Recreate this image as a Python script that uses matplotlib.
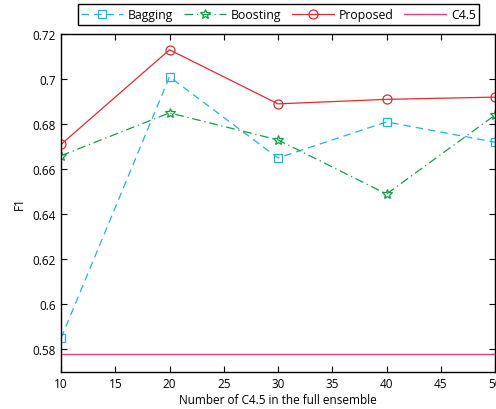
import matplotlib
matplotlib.use('Agg')
import matplotlib.pyplot as plt

# Ensemble sizes and F1 scores
sizes = [10, 20, 30, 40, 50]
bagging = [0.585, 0.701, 0.665, 0.681, 0.672]
boosting = [0.666, 0.685, 0.673, 0.649, 0.684]
proposed = [0.671, 0.713, 0.689, 0.691, 0.692]
c45 = [0.578, 0.578, 0.578, 0.578, 0.578]

plt.rcParams['font.family'] = ['Open Sans', 'DejaVu Sans']
plt.rcParams['font.size'] = 8.5

fig = plt.figure(figsize=(4.96, 4.10), dpi=100)
ax = fig.add_axes([0.123, 0.0902, 0.875, 0.8244])

ax.plot(sizes, bagging, color='#1ab4ea', linestyle=(0, (6, 4)), linewidth=0.9,
        marker='s', markersize=5.5, markerfacecolor='none', markeredgewidth=0.9,
        label='Bagging')
ax.plot(sizes, boosting, color='#10a040', linestyle=(0, (7, 3, 1, 3)), linewidth=0.9,
        marker='*', markersize=7.5, markerfacecolor='none', markeredgewidth=0.9,
        label='Boosting')
ax.plot(sizes, proposed, color='#e8292e', linestyle='-', linewidth=0.9,
        marker='o', markersize=6.5, markerfacecolor='none', markeredgewidth=0.9,
        label='Proposed')
ax.plot(sizes, c45, color='#e8378e', linestyle='-', linewidth=1.0, label='C4.5')

ax.set_xlim(10, 50)
ax.set_ylim(0.57, 0.72)
ax.set_xticks([10, 15, 20, 25, 30, 35, 40, 45, 50])
ax.set_yticks([0.58, 0.6, 0.62, 0.64, 0.66, 0.68, 0.7, 0.72])
ax.set_yticklabels(['0.58', '0.6', '0.62', '0.64', '0.66', '0.68', '0.7', '0.72'])
ax.tick_params(direction='in', top=True, right=True, length=4, width=0.8)
for s in ax.spines.values():
    s.set_linewidth(1.0)

ax.set_xlabel('Number of C4.5 in the full ensemble', labelpad=2)
ax.set_ylabel('F1', labelpad=5)

fig.legend(loc='center', bbox_to_anchor=(0.5615, 0.962), ncol=4,
           fontsize=8.8, frameon=True, fancybox=False, edgecolor='black',
           framealpha=1, handlelength=3.4, columnspacing=0.9,
           handletextpad=0.4, borderpad=0.3, borderaxespad=0)

fig.savefig('out.png', dpi=100)
